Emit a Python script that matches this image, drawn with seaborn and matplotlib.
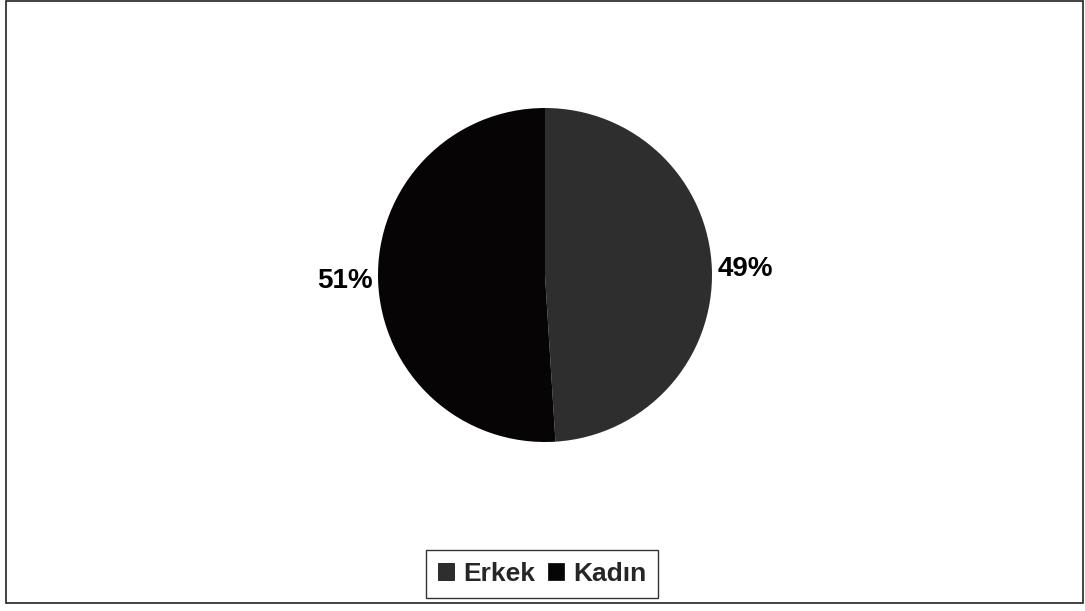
import matplotlib
matplotlib.use("Agg")
import matplotlib.pyplot as plt
import seaborn as sns
from matplotlib.patches import Rectangle, Patch

categories = ["Erkek", "Kadın"]
values = [49, 51]
colors = ["#2e2e2e", "#060404"]

sns.set_theme(style="white")
plt.rcParams['font.family'] = ['Liberation Sans', 'DejaVu Sans']

W, H = 1085, 611
fig = plt.figure(figsize=(W / 100, H / 100), dpi=100)
fig.patch.set_facecolor("white")

cx, cy, r = 545, 275, 167
ax = fig.add_axes([(cx - r) / W, (H - cy - r) / H, 2 * r / W, 2 * r / H])
wedges, texts, autotexts = ax.pie(
    values, colors=colors, startangle=90, counterclock=False,
    autopct=lambda p: f"{p:.0f}%", pctdistance=1.20,
    wedgeprops=dict(linewidth=0),
    textprops=dict(fontsize=20, fontweight="bold", color="black"),
)
ax.set_xlim(-1, 1)
ax.set_ylim(-1, 1)
ax.set_aspect("equal")
ax.axis("off")

handles = [Patch(facecolor=c, edgecolor="black", linewidth=0.5) for c in colors]
leg = fig.legend(handles, categories, loc="center", bbox_to_anchor=(542 / W, 1 - 574 / H),
                 ncol=2, frameon=True, fancybox=False,
                 prop=dict(weight="bold", size=19),
                 handlelength=0.6, handleheight=0.6, handletextpad=0.35,
                 columnspacing=0.5, borderpad=0.45, borderaxespad=0,
                 edgecolor="black")
leg.get_frame().set_linewidth(1.0)

fig.patches.append(Rectangle((6 / W, (H - 603) / H), (1083 - 6) / W, (603 - 1) / H,
                             transform=fig.transFigure, fill=False,
                             edgecolor="#222222", linewidth=1.2))

fig.savefig("out.png", dpi=100)
